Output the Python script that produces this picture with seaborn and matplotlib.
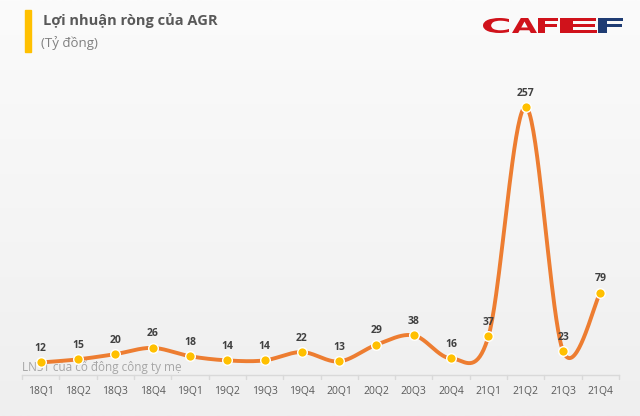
import numpy as np
import matplotlib
matplotlib.use("Agg")
from matplotlib import pyplot as plt
from matplotlib.textpath import TextPath
from matplotlib.font_manager import FontProperties
from matplotlib.patches import PathPatch, Rectangle
from matplotlib.transforms import Affine2D, IdentityTransform
import seaborn as sns

quarters = ["18Q1", "18Q2", "18Q3", "18Q4", "19Q1", "19Q2", "19Q3", "19Q4",
            "20Q1", "20Q2", "20Q3", "20Q4", "21Q1", "21Q2", "21Q3", "21Q4"]
profit = [12, 15, 20, 26, 18, 14, 14, 22, 13, 29, 38, 16, 37, 257, 23, 79]

sns.set_theme(style="white")
plt.rcParams['font.family'] = ['Open Sans', 'DejaVu Sans']

W, H = 640, 416


def smooth_line(y, n=40):
    # excel-like smoothed line: cubic bezier with catmull-rom handles
    y = np.asarray(y, dtype=float)
    x = np.arange(len(y), dtype=float)
    px, py = [], []
    for i in range(len(y) - 1):
        i0, i3 = max(i - 1, 0), min(i + 2, len(y) - 1)
        p1 = np.array([x[i], y[i]])
        p2 = np.array([x[i + 1], y[i + 1]])
        c1 = p1 + (p2 - np.array([x[i0], y[i0]])) / 6
        c2 = p2 - (np.array([x[i3], y[i3]]) - p1) / 6
        t = np.linspace(0, 1, n)[:, None]
        seg = ((1 - t) ** 3) * p1 + 3 * (1 - t) ** 2 * t * c1 + 3 * (1 - t) * t ** 2 * c2 + t ** 3 * p2
        px.extend(seg[:, 0])
        py.extend(seg[:, 1])
    return np.array(px), np.array(py)


fig = plt.figure(figsize=(6.4, 4.16), dpi=100)

# background gradient
bg = fig.add_axes([0, 0, 1, 1], zorder=-5)
grad = np.linspace(0, 1, 256)[:, None]
bg.imshow(grad, aspect="auto", cmap=matplotlib.colors.LinearSegmentedColormap.from_list(
    "bg", ["#fbfbfb", "#efefef"]), extent=[0, 1, 0, 1], origin="upper")
bg.set_axis_off()

ax = fig.add_axes([22 / W, 1 - 375 / H, 597 / W, 315 / H])
ax.patch.set_alpha(0)
xs = np.arange(len(quarters))

sx, sy = smooth_line(profit)
sns.lineplot(x=sx, y=sy, sort=False, estimator=None, color="#ED7D31",
             linewidth=2.8, ax=ax, zorder=3)
sns.scatterplot(x=xs, y=profit, color="#FFC000", edgecolor="white",
                linewidth=1, s=48, ax=ax, zorder=4)

for xi, v in zip(xs, profit):
    ax.annotate(str(v), (xi, v), xytext=(0, 10), textcoords="offset points",
                ha="center", va="center", fontsize=7.5, fontweight="bold",
                color="#404040", zorder=5)

ax.set_xlim(-0.5, len(quarters) - 0.5)
ax.set_ylim(0, 302)
ax.set_xticks(xs)
ax.set_xticklabels(quarters, fontsize=7.5, color="#595959")
ax.set_yticks([])
ax.set_xlabel("")
ax.set_ylabel("")
for s in ["top", "right", "left"]:
    ax.spines[s].set_visible(False)
ax.spines["bottom"].set_color("#D9D9D9")
ax.spines["bottom"].set_linewidth(1)
ax.tick_params(axis="x", length=0, pad=8)
# small separators between categories
for b in np.arange(-0.5, len(quarters)):
    ax.plot([b, b], [0, -4], color="#D9D9D9", lw=1, clip_on=False)

ax.text(-0.5, 8, "LNST của cổ đông công ty mẹ", fontsize=8.5, color="#A6A6A6",
        ha="left", va="center", zorder=1)

# title block
fig.patches.append(Rectangle((25 / W, 1 - 52 / H), 6 / W, 42 / H,
                             transform=fig.transFigure, color="#FFC000"))
fig.text(43 / W, 1 - 20 / H, "Lợi nhuận ròng của AGR", fontsize=10.5,
         fontweight="bold", color="#595959", va="center", ha="left")
fig.text(41 / W, 1 - 43 / H, "(Tỷ đồng)", fontsize=9.5, color="#7F7F7F",
         va="center", ha="left")

# logo: letters stretched into their boxes (pixel coords, y from top)
logo = [("C", 483, 509, "#D0121B"), ("A", 512, 537, "#D0121B"),
        ("F", 538, 558, "#D0121B"), ("E", 560, 597, "#D0121B"),
        ("F", 598, 623, "#1F3C73")]
fp = FontProperties(family="DejaVu Sans", weight="bold")
for ch, x0, x1, col in logo:
    tp = TextPath((0, 0), ch, size=10, prop=fp)
    ext = tp.get_extents()
    y0, y1 = H - 33, H - 18
    tr = (Affine2D().translate(-ext.x0, -ext.y0)
          .scale((x1 - x0) / ext.width, (y1 - y0) / ext.height)
          .translate(x0, y0))
    fig.patches.append(PathPatch(tr.transform_path(tp), facecolor=col,
                                 edgecolor="none", transform=IdentityTransform()))

fig.savefig("out.png", dpi=100)
